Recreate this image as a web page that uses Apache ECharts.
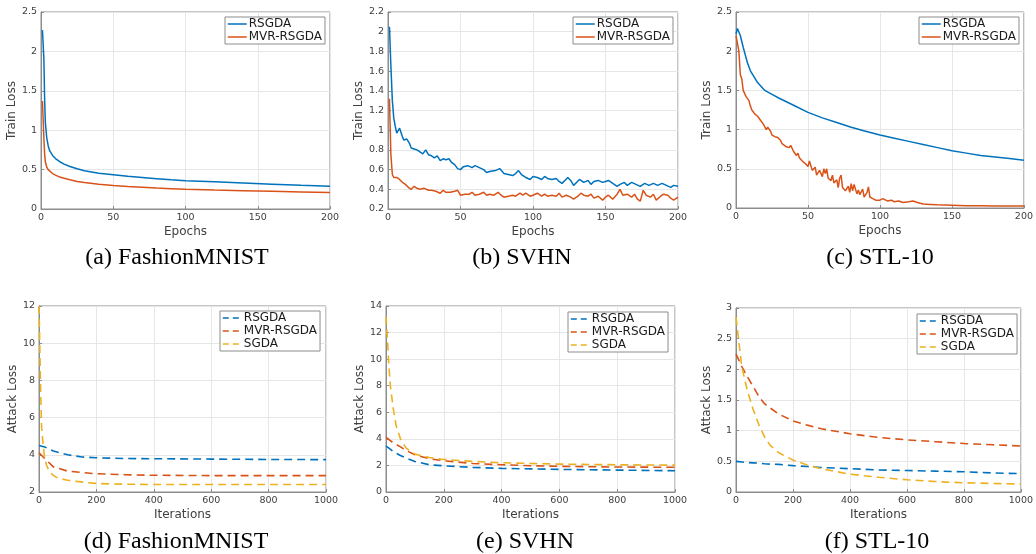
<!DOCTYPE html>
<html><head><meta charset="utf-8">
<script src="https://cdn.jsdelivr.net/npm/echarts@6/dist/echarts.min.js"></script>
<style>html,body{margin:0;padding:0;background:#fff}#c{width:1036px;height:554px}</style>
</head><body><div id="c"></div>
<script>
// ---- Data ----
const aEpochs = [1,1.5,2,2.5,3,4,5,6,8,10,13,16,20,25,30,40,50,60,70,80,90,100,120,140,160,180,200];
const aRsgda  = [2.27,2.26,1.9,1.4,1.1,0.9,0.8,0.74,0.68,0.64,0.6,0.57,0.54,0.51,0.485,0.455,0.435,0.415,0.4,0.385,0.37,0.36,0.345,0.33,0.315,0.3,0.288];
const aMvr    = [1.37,1.36,0.9,0.7,0.6,0.53,0.5,0.48,0.45,0.43,0.405,0.39,0.37,0.35,0.335,0.315,0.297,0.285,0.275,0.265,0.258,0.25,0.24,0.232,0.225,0.217,0.21];

const bEpochsR = [1,1.5,2,3,4,5,6,7,8,9,10,11,12,13,14,15,16,17,18,19,20,22,24,26,28,30,32,34,36,38,40,42,44,46,48,50,52,55,58,60,63,66,68,70,74,77,80,83,86,88,90,92,95,98,100,103,106,108,110,113,116,118,120,122,124,126,128,130,132,135,138,140,142,145,148,150,152,155,158,160,163,165,168,171,174,177,180,183,186,189,192,195,197,200];
const bRsgda   = [2.05,2.05,1.65,1.3,1.12,1.04,0.97,0.98,1.02,1.0,0.93,0.9,0.88,0.91,0.91,0.86,0.82,0.8,0.81,0.82,0.8,0.78,0.76,0.8,0.75,0.74,0.72,0.74,0.69,0.71,0.7,0.71,0.67,0.65,0.61,0.6,0.63,0.64,0.62,0.64,0.62,0.6,0.57,0.58,0.59,0.61,0.56,0.55,0.54,0.56,0.59,0.55,0.52,0.5,0.53,0.52,0.5,0.53,0.51,0.5,0.51,0.48,0.46,0.49,0.52,0.49,0.44,0.47,0.5,0.47,0.49,0.45,0.48,0.49,0.47,0.48,0.49,0.46,0.43,0.45,0.47,0.44,0.47,0.45,0.43,0.46,0.44,0.46,0.44,0.46,0.44,0.42,0.44,0.43];
const bEpochsM = [1,1.5,2,3,4,6,8,10,12,14,16,18,20,22,25,28,30,33,36,38,40,43,46,48,50,53,56,58,60,63,66,68,70,73,76,78,80,83,86,88,91,93,95,98,100,103,106,108,110,113,116,118,120,123,126,128,131,133,135,138,140,142,145,148,150,152,155,158,160,162,165,168,170,172,174,176,178,181,183,185,188,190,193,195,197,200];
const bMvr     = [1.32,1.3,0.75,0.55,0.52,0.52,0.5,0.47,0.45,0.42,0.4,0.43,0.41,0.4,0.41,0.39,0.39,0.38,0.36,0.39,0.37,0.37,0.38,0.39,0.34,0.35,0.35,0.37,0.34,0.35,0.37,0.34,0.35,0.34,0.37,0.34,0.32,0.33,0.34,0.33,0.36,0.34,0.36,0.33,0.34,0.36,0.33,0.35,0.33,0.34,0.33,0.36,0.32,0.34,0.32,0.3,0.33,0.36,0.34,0.33,0.35,0.31,0.33,0.29,0.32,0.34,0.3,0.35,0.4,0.34,0.35,0.32,0.35,0.3,0.28,0.39,0.34,0.32,0.35,0.29,0.33,0.35,0.34,0.31,0.29,0.32];

const cEpochsR = [0,1,3,5,8,10,15,20,25,30,40,50,60,70,80,90,100,110,120,130,140,150,160,170,180,190,200];
const cRsgda   = [2.22,2.29,2.2,2.05,1.85,1.75,1.6,1.5,1.45,1.4,1.31,1.22,1.15,1.09,1.03,0.98,0.93,0.89,0.85,0.81,0.77,0.73,0.7,0.67,0.65,0.63,0.61];
const cEpochsM = [0,1,2,3,4,5,7,9,10,11,12,13,15,17,19,21,22,24,25,27,29,31,32,33,35,37,38,40,42,43,44,46,47,48,50,51,53,55,56,58,60,61,62,63,64,66,67,68,70,71,72,73,74,76,78,79,80,81,82,84,85,86,88,89,90,91,92,93,95,97,100,102,105,108,110,113,116,120,123,126,130,135,140,150,160,170,180,190,200];
const cMvr     = [2.2,2.2,2.0,1.7,1.65,1.5,1.42,1.37,1.3,1.25,1.27,1.2,1.17,1.12,1.07,1.0,1.03,0.98,0.93,0.91,0.9,0.86,0.82,0.84,0.78,0.77,0.8,0.72,0.67,0.7,0.64,0.6,0.62,0.57,0.53,0.6,0.48,0.52,0.42,0.48,0.4,0.5,0.44,0.5,0.38,0.35,0.42,0.32,0.36,0.26,0.38,0.42,0.26,0.22,0.28,0.2,0.31,0.22,0.3,0.18,0.23,0.17,0.24,0.14,0.16,0.2,0.27,0.14,0.12,0.1,0.1,0.12,0.09,0.1,0.08,0.09,0.07,0.08,0.09,0.07,0.05,0.045,0.04,0.035,0.03,0.03,0.025,0.025,0.025];

const dIters  = [0,20,50,100,150,200,300,400,600,800,1000];
const dRsgda  = [4.5,4.42,4.2,4.0,3.88,3.84,3.8,3.79,3.77,3.75,3.74];
const dMvr    = [4.1,3.8,3.35,3.12,3.05,2.98,2.93,2.9,2.88,2.88,2.88];
const dItersS = [0,2,5,9,14,19,26,33,45,60,73,100,131,170,212,300,400,600,800,1000];
const dSgda   = [12,10.5,8,5.5,4.6,3.9,3.45,3.2,2.95,2.8,2.72,2.63,2.57,2.5,2.45,2.42,2.4,2.4,2.4,2.4];

const eIters  = [0,5,10,15,25,35,50,70,100,150,200,300,400,500,600,800,1000];
const eRsgda  = [3.45,3.38,3.3,3.2,3.05,2.92,2.75,2.55,2.3,2.05,1.97,1.85,1.78,1.74,1.7,1.65,1.6];
const eMvr    = [4.1,4.02,3.95,3.85,3.7,3.58,3.4,3.12,2.8,2.5,2.35,2.15,2.05,1.98,1.93,1.88,1.86];
const eSgda   = [13.2,11.5,9.5,8.0,6.3,5.0,4.0,3.3,2.85,2.6,2.45,2.3,2.2,2.15,2.1,2.05,2.02];

const fIters  = [0,10,20,40,60,80,100,120,150,200,250,300,400,500,600,700,800,900,1000];
const fRsgda  = [0.5,0.495,0.49,0.48,0.475,0.47,0.46,0.455,0.45,0.43,0.415,0.4,0.38,0.36,0.35,0.34,0.33,0.31,0.3];
const fMvr    = [2.25,2.15,2.05,1.88,1.72,1.56,1.44,1.37,1.27,1.16,1.09,1.03,0.95,0.89,0.85,0.82,0.79,0.77,0.75];
const fSgda   = [2.85,2.45,2.05,1.65,1.35,1.1,0.9,0.76,0.64,0.52,0.44,0.38,0.29,0.24,0.2,0.17,0.15,0.14,0.13];

const captions = ['(a) FashionMNIST','(b) SVHN','(c) STL-10','(d) FashionMNIST','(e) SVHN','(f) STL-10'];

// ---- Styling / layout ----
const BLUE='#0072BD', ORANGE='#D95319', YELLOW='#EDB120';
const FRAME='#8c8c8c', GRIDC='#e6e6e6', TXT='#404040';
const grids = [
  {left:41, top:12, width:289, height:197},
  {left:388, top:12, width:290, height:197},
  {left:736, top:12, width:288, height:196},
  {left:39, top:306, width:287, height:186},
  {left:386, top:306, width:289, height:186},
  {left:736, top:308, width:286, height:184}
];
const yCfg = [
  {min:0,max:2.5,interval:0.5,name:'Train Loss',gap:12},
  {min:0.2,max:2.2,interval:0.2,name:'Train Loss',gap:14},
  {min:0,max:2.5,interval:0.5,name:'Train Loss',gap:14},
  {min:2,max:12,interval:2,name:'Attack Loss',gap:12},
  {min:0,max:14,interval:2,name:'Attack Loss',gap:12},
  {min:0,max:3,interval:0.5,name:'Attack Loss',gap:14}
];
const xCfg = [
  {max:200,interval:50,name:'Epochs',gap:17},
  {max:200,interval:50,name:'Epochs',gap:17},
  {max:200,interval:50,name:'Epochs',gap:17},
  {max:1000,interval:200,name:'Iterations',gap:17},
  {max:1000,interval:200,name:'Iterations',gap:17},
  {max:1000,interval:200,name:'Iterations',gap:17}
];
const legendPos = [
  {left:225,top:17},{left:573,top:17},{left:919,top:17},
  {left:220,top:311},{left:568,top:312},{left:917,top:314}
];
const capPos = [[177,258],[522,258],[880,258],[176,542],[525,542],[877,542]];

function zip(x,y){return x.map((v,i)=>[v,y[i]]);}
const fmt = v => String(Math.round(v*1000)/1000);

const xAxis = xCfg.map((c,i)=>({
  type:'value', gridIndex:i, min:0, max:c.max, interval:c.interval,
  name:c.name, nameLocation:'middle', nameGap:c.gap,
  nameTextStyle:{fontFamily:'DejaVu Sans',fontSize:12,color:TXT},
  axisLine:{show:true,onZero:false,lineStyle:{color:FRAME,width:1}},
  axisTick:{show:true,inside:true,length:3,lineStyle:{color:FRAME}},
  axisLabel:{fontFamily:'DejaVu Sans',fontSize:9.5,color:TXT,margin:4,formatter:fmt},
  splitLine:{show:true,lineStyle:{color:GRIDC,width:1}}
}));
const yAxis = yCfg.map((c,i)=>({
  type:'value', gridIndex:i, min:c.min, max:c.max, interval:c.interval,
  name:c.name, nameLocation:'middle', nameGap:c.gap,
  nameTextStyle:{fontFamily:'DejaVu Sans',fontSize:12,color:TXT},
  axisLine:{show:true,onZero:false,lineStyle:{color:FRAME,width:1}},
  axisTick:{show:true,inside:true,length:3,lineStyle:{color:FRAME}},
  axisLabel:{fontFamily:'DejaVu Sans',fontSize:9.5,color:TXT,margin:4,formatter:fmt},
  splitLine:{show:true,lineStyle:{color:GRIDC,width:1}}
}));

function solid(name,color,i,data){
  return {type:'line',name,xAxisIndex:i,yAxisIndex:i,data,symbol:'none',smooth:false,
    lineStyle:{color,width:1.5},itemStyle:{color},z:3};
}
function dashed(name,color,i,data){
  return {type:'line',name,xAxisIndex:i,yAxisIndex:i,data,symbol:'none',smooth:false,
    lineStyle:{color,width:1.6,type:[8,5]},itemStyle:{color},z:3};
}
const series = [
  solid('RSGDA',BLUE,0,zip(aEpochs,aRsgda)),
  solid('MVR-RSGDA',ORANGE,0,zip(aEpochs,aMvr)),
  solid('RSGDA',BLUE,1,zip(bEpochsR,bRsgda)),
  solid('MVR-RSGDA',ORANGE,1,zip(bEpochsM,bMvr)),
  solid('RSGDA',BLUE,2,zip(cEpochsR,cRsgda)),
  solid('MVR-RSGDA',ORANGE,2,zip(cEpochsM,cMvr)),
  dashed('RSGDA',BLUE,3,zip(dIters,dRsgda)),
  dashed('MVR-RSGDA',ORANGE,3,zip(dIters,dMvr)),
  dashed('SGDA',YELLOW,3,zip(dItersS,dSgda)),
  dashed('RSGDA',BLUE,4,zip(eIters,eRsgda)),
  dashed('MVR-RSGDA',ORANGE,4,zip(eIters,eMvr)),
  dashed('SGDA',YELLOW,4,zip(eIters,eSgda)),
  dashed('RSGDA',BLUE,5,zip(fIters,fRsgda)),
  dashed('MVR-RSGDA',ORANGE,5,zip(fIters,fMvr)),
  dashed('SGDA',YELLOW,5,zip(fIters,fSgda))
];

const legendBase = {
  orient:'vertical', itemWidth:19, itemHeight:14, itemGap:1,
  padding:[1,3,1,2], backgroundColor:'#fff', borderColor:FRAME, borderWidth:1,
  borderRadius:0, selectedMode:false, z:10,
  textStyle:{fontFamily:'DejaVu Sans',fontSize:12,color:'#1a1a1a',padding:[0,0,0,-3]}
};
const legend = legendPos.map((p,i)=>{
  const names = i<3 ? ['RSGDA','MVR-RSGDA'] : ['RSGDA','MVR-RSGDA','SGDA'];
  const cols = [BLUE,ORANGE,YELLOW];
  return Object.assign({}, legendBase, p, {
    data: names.map((n,k)=>({name:n,
      lineStyle: i<3 ? {color:cols[k],width:1.5,type:'solid'} : {color:cols[k],width:1.6,type:[6,4]},
      itemStyle:{color:'rgba(0,0,0,0)',borderColor:'rgba(0,0,0,0)',borderWidth:0,opacity:0}}))
  });
});

const graphic = captions.map((t,i)=>({
  type:'text', x:capPos[i][0], y:capPos[i][1],
  style:{text:t, fontFamily:'Liberation Serif', fontSize:24, fill:'#000', align:'center', verticalAlign:'middle'}
}));

const chart = echarts.init(document.getElementById('c'), null, {renderer:'canvas'});
chart.setOption({
  animation:false, backgroundColor:'#fff',
  grid: grids.map(g=>Object.assign({show:true,borderColor:FRAME,borderWidth:1,backgroundColor:'transparent'},g)),
  xAxis, yAxis, series, legend, graphic
});
</script></body></html>
